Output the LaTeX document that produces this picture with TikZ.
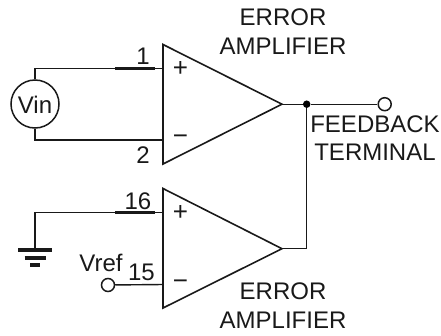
\documentclass[tikz,border=0pt]{standalone}
\usepackage{fontspec}
\setmainfont{Liberation Sans}
\tikzset{
  wire/.style={line width=1.4pt,black!90},
  pinwire/.style={line width=2.1pt,black!90},
  amp/.style={line width=1.6pt,black!90,line join=miter},
  lbl/.style={inner sep=0pt,font=\fontsize{24}{24}\selectfont,text=black!90},
  sign/.style={inner sep=0pt,font=\fontsize{26}{26}\selectfont,text=black!90},
  terminal/.style={circle,draw=black!90,line width=1.5pt,fill=white,minimum size=13pt,inner sep=0pt},
  source/.style={circle,draw=black!90,line width=1.5pt,fill=white,minimum size=48pt,inner sep=0pt},
  junction/.style={circle,fill=black,minimum size=7.5pt,inner sep=0pt},
  gbar/.style={line width=3.6pt,black!90}
}
\begin{document}
\begin{tikzpicture}[x=1pt,y=-1pt]
\useasboundingbox (0,0) rectangle (441,335);
% amplifier outlines
\coordinate (a1t) at (163,44.5);
\coordinate (a1b) at (163,164);
\coordinate (a1o) at (282,104.2);
\coordinate (a2t) at (163,188.5);
\coordinate (a2b) at (163,308);
\coordinate (a2o) at (282,248.7);
% pins
\coordinate (p1) at (163,68.5);
\coordinate (p2) at (163,140);
\coordinate (p16) at (163,212.5);
\coordinate (p15) at (163,284.5);
\coordinate (t1a) at (115,68.5);
\coordinate (t1b) at (155,68.5);
\coordinate (t2a) at (115,140);
\coordinate (t2b) at (155,140);
\coordinate (t16a) at (115,212.5);
\coordinate (t16b) at (155,212.5);
\coordinate (c1) at (35,68.5);
\coordinate (c2) at (35,140);
\coordinate (c16) at (35,212.5);
\coordinate (g1) at (35,250);
\coordinate (g1l) at (18,250);
\coordinate (g1r) at (52,250);
\coordinate (g2l) at (24.5,257.7);
\coordinate (g2r) at (46,257.7);
\coordinate (g3l) at (30,265);
\coordinate (g3r) at (40,265);
\coordinate (fb) at (306.7,248.7);
% nodes
\node[source] (vin) at (35,104) {};
\node[terminal] (fbt) at (384.7,104.2) {};
\node[terminal] (vref) at (108,285) {};
\node[junction] (j) at (306.7,104.2) {};
% wires
\draw[wire] (vin.north) -- (c1) -- (p1);
\draw[wire] (vin.south) -- (c2) -- (p2);
\draw[pinwire] (t1a) -- (t1b);
\draw[pinwire] (t2a) -- (t2b);
\draw[wire] (g1) -- (c16) -- (p16);
\draw[pinwire] (t16a) -- (t16b);
\draw[wire] (vref) -- (p15);
\draw[wire] (a1o) -- (j) -- (fbt);
\draw[wire] (j) -- (fb) -- (a2o);
\draw[gbar] (g1l) -- (g1r);
\draw[gbar] (g2l) -- (g2r);
\draw[gbar] (g3l) -- (g3r);
\draw[amp] (a1t) -- (a1o) -- (a1b) -- cycle;
\draw[amp] (a2t) -- (a2o) -- (a2b) -- cycle;
% labels
\node[lbl] (vint) at (35,104.5) {Vin};
\node[sign] (s1) at (180.5,68.5) {+};
\node[sign] (s2) at (180.5,140) {−};
\node[sign] (s3) at (180.5,212.5) {+};
\node[sign] (s4) at (180.5,284.5) {−};
\node[lbl] (n1) at (143,56) {1};
\node[lbl] (n2) at (143,155) {2};
\node[lbl] (n16) at (138,201) {16};
\node[lbl] (n15) at (141.5,272.5) {15};
\node[lbl] (nvref) at (101,263) {Vref};
\node[lbl] (e1) at (283,17) {ERROR};
\node[lbl] (e1b) at (283,46) {AMPLIFIER};
\node[lbl] (e2) at (283,291) {ERROR};
\node[lbl] (e2b) at (283,320) {AMPLIFIER};
\node[lbl] (f1) at (375,124) {FEEDBACK};
\node[lbl] (f2) at (375,152.5) {TERMINAL};
\end{tikzpicture}
\end{document}
